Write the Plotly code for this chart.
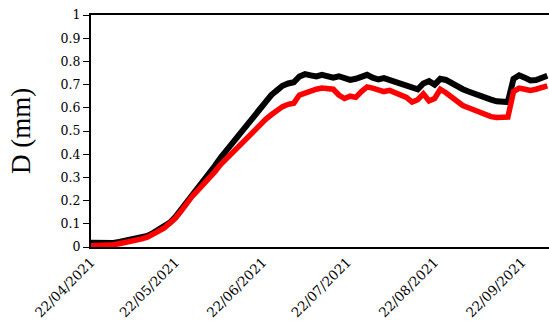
import datetime as dt
import plotly.graph_objects as go

# Measurement start and sampling offsets (days from start)
start_date = dt.date(2021, 4, 22)
day_offsets = list(range(0, 164, 2))

# Stem diameter variation (mm), two sensors
series_black = [
    0.018, 0.017, 0.018, 0.015, 0.017, 0.022, 0.027, 0.028, 0.032, 0.042,
    0.048, 0.060, 0.075, 0.088, 0.105, 0.130, 0.160, 0.190, 0.225, 0.255,
    0.285, 0.315, 0.350, 0.385, 0.415, 0.450, 0.485, 0.510, 0.540, 0.565,
    0.600, 0.630, 0.655, 0.675, 0.695, 0.705, 0.710, 0.735, 0.745, 0.740,
    0.735, 0.742, 0.735, 0.730, 0.736, 0.728, 0.720, 0.725, 0.735, 0.742,
    0.730, 0.722, 0.728, 0.720, 0.710, 0.700, 0.695, 0.685, 0.680, 0.705,
    0.715, 0.700, 0.725, 0.720, 0.705, 0.690, 0.680, 0.670, 0.660, 0.650,
    0.640, 0.635, 0.628, 0.625, 0.625, 0.725, 0.740, 0.730, 0.718, 0.720,
    0.730, 0.738,
]
series_red = [
    0.005, 0.006, 0.005, 0.007, 0.010, 0.014, 0.018, 0.022, 0.028, 0.035,
    0.042, 0.052, 0.068, 0.082, 0.100, 0.125, 0.155, 0.190, 0.220, 0.245,
    0.270, 0.295, 0.325, 0.355, 0.380, 0.405, 0.430, 0.455, 0.475, 0.500,
    0.525, 0.550, 0.570, 0.590, 0.605, 0.615, 0.620, 0.655, 0.665, 0.675,
    0.680, 0.685, 0.680, 0.680, 0.655, 0.640, 0.650, 0.645, 0.670, 0.690,
    0.685, 0.675, 0.670, 0.675, 0.665, 0.655, 0.645, 0.625, 0.635, 0.660,
    0.630, 0.640, 0.680, 0.665, 0.645, 0.625, 0.610, 0.600, 0.590, 0.578,
    0.570, 0.562, 0.558, 0.560, 0.560, 0.670, 0.685, 0.680, 0.675, 0.680,
    0.690, 0.695,
]

tick_dates = ["2021-04-22", "2021-05-22", "2021-06-22",
              "2021-07-22", "2021-08-22", "2021-09-22"]
y_ticks = [0, 0.1, 0.2, 0.3, 0.4, 0.5, 0.6, 0.7, 0.8, 0.9, 1]

dates = [start_date + dt.timedelta(days=d) for d in day_offsets]

FONT = "DejaVu Serif"

fig = go.Figure()
fig.add_trace(go.Scatter(x=dates, y=series_black, mode="lines",
                         line=dict(color="black", width=6)))
fig.add_trace(go.Scatter(x=dates, y=series_red, mode="lines",
                         line=dict(color="#ff0000", width=5.5)))

x_end = dt.datetime(2021, 4, 22) + dt.timedelta(days=162.6)

fig.update_layout(
    width=549, height=332,
    margin=dict(l=91, r=0, t=15, b=85),
    paper_bgcolor="white", plot_bgcolor="white",
    showlegend=False,
    font=dict(family=FONT, color="black", size=12),
    xaxis=dict(
        range=[dt.datetime(2021, 4, 22), x_end],
        tickvals=tick_dates,
        ticktext=[dt.date.fromisoformat(t).strftime("%d/%m/%Y") for t in tick_dates],
        tickangle=-45,
        ticks="",
        showgrid=False, zeroline=False,
        showline=True, linecolor="black", linewidth=2, mirror=True,
        tickfont=dict(family=FONT, size=13.5),
    ),
    yaxis=dict(
        range=[0, 1],
        tickvals=y_ticks,
        ticktext=[f"{v:g}" for v in y_ticks],
        ticks="outside", ticklen=6, tickcolor="black", tickwidth=1,
        showgrid=False, zeroline=False,
        showline=True, linecolor="black", linewidth=2,
        tickfont=dict(family=FONT, size=12.5),
        title=dict(text="D (mm)", font=dict(family="Liberation Serif", size=27), standoff=22),
    ),
)

fig.write_html("out.html")
